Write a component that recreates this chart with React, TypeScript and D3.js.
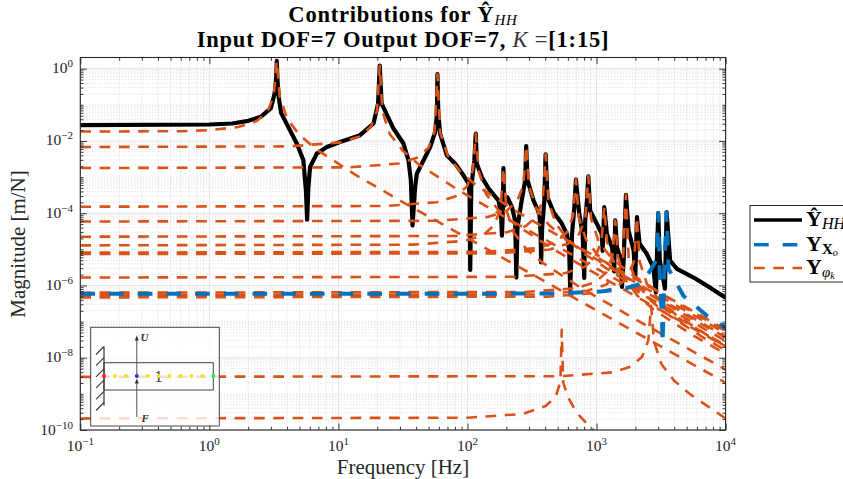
import React, { useEffect, useRef } from 'react'
import * as d3 from 'd3'

// every series is [frequency in Hz, log10 of magnitude in m/N]
type Pt = [number, number]

const total: Pt[] = [
  [0.1, -1.564], [1, -1.545], [1.5, -1.516], [2, -1.444], [2.5, -1.333], [3, -1.09], [3.2, -0.7], [3.29, -0.3], [3.33, 0.214],
  [3.37, -0.3], [3.45, -0.8], [3.6, -1.23], [4.76, -2.07], [5.35, -2.536], [5.6, -3.37], [5.72, -4.18],
  [5.85, -3.28], [6.03, -2.72], [6.8, -2.35], [8.13, -2.167], [10.3, -2.03], [14.7, -1.84], [18.7, -1.517], [20.3, -0.961], [20.9, 0.083],
  [21.6, -0.961], [26.7, -1.656], [31.9, -2.07], [34.9, -2.536], [36.4, -3.09], [37.5, -4.34],
  [39.3, -3.28], [40.5, -2.906], [43, -2.72], [51.4, -2.167], [56.2, -1.75], [58, -1.239], [58.5, -0.147],
  [59.4, -1.239], [61.4, -1.794], [69.2, -2.397], [80.4, -2.63], [93, -2.95], [102, -3.18], [104, -3.56], [105, -5.57],
  [107, -3.28], [110, -2.906], [113, -2.54], [116, -1.794], [118, -2.62], [129, -3], [146, -3.32], [174, -3.65], [182, -4.02], [185, -4.62],
  [188, -3.9], [190, -2.75], [192, -3.8], [204, -3.56], [221, -3.83], [234, -4.2], [239, -5.78],
  [244, -4.39], [263, -3.65], [280, -3.09], [285, -2.14], [292, -3.09], [325, -3.65], [361, -4.02], [369, -4.57], [372, -5.36],
  [379, -4.39], [394, -3.65], [403, -2.37], [417, -3.56], [464, -3.97], [537, -4.28], [589, -4.57], [614, -5.04], [625, -6.1],
  [646, -4.57], [673, -3.83], [692, -3.07], [735, -4.02], [780, -4.57], [803, -5.79],
  [817, -4.2], [843, -3.65], [863, -2.98], [893, -3.93], [1005, -4.29], [1097, -4.57], [1115, -5.04],
  [1148, -3.83], [1202, -4.57], [1318, -4.94], [1371, -5.61], [1396, -4.2], [1439, -4.94], [1549, -5.31], [1574, -6.04],
  [1622, -5.31], [1690, -3.49], [1770, -4.48], [1940, -5.04], [1995, -5.8], [2056, -4.11], [2153, -4.84], [2455, -5.13], [2754, -5.5], [2884, -6.19],
  [3006, -4.0], [3090, -5.3], [3388, -6.09], [3491, -3.97], [3715, -5.31], [4198, -5.54], [5650, -5.78], [7586, -6.06], [10000, -6.34],
]

const residual: Pt[] = [
  [0.1, -6.23], [100, -6.23], [500, -6.22], [1050, -6.17], [1318, -6.13], [1718, -6.07], [2183, -5.96], [2606, -5.59], [2938, -5.27],
  [3006, -4.0], [3090, -5.68], [3214, -6.89], [3251, -7.62], [3350, -5.59], [3491, -3.97], [3614, -5.54], [4721, -6.29], [7178, -6.84], [10000, -7.17],
]

const mode1: Pt[] = [[0.1, -1.74], [0.6, -1.73], [1, -1.7], [1.67, -1.615], [2.33, -1.45], [2.83, -1.184], [3.16, -0.73], [3.33, 0.214], [3.5, -0.75], [4, -1.384], [5, -1.837], [6.66, -2.217], [13.3, -2.92], [33.3, -3.74], [100, -4.69], [1000, -6.69], [10000, -8.69]]
const mode2: Pt[] = [[0.1, -2.167], [4.2, -2.15], [10.45, -2.04], [14.6, -1.877], [17.8, -1.61], [19.9, -1.157], [20.9, 0.083], [21.9, -1.177], [25, -1.81], [31.4, -2.264], [41.8, -2.644], [83.6, -3.347], [209, -4.167], [1000, -5.53], [10000, -7.53]]
const mode3: Pt[] = [[0.1, -2.75], [12, -2.73], [29.3, -2.625], [41, -2.46], [49.7, -2.194], [55.6, -1.74], [58.5, -0.147], [61.4, -1.76], [70, -2.394], [87.8, -2.847], [117, -3.227], [234, -3.93], [585, -4.75], [1000, -5.216], [10000, -7.216]]
const mode4: Pt[] = [[0.1, -3.82], [23, -3.8], [58, -3.695], [81, -3.53], [99, -3.264], [110, -2.81], [116, -1.794], [122, -2.83], [139, -3.464], [174, -3.917], [232, -4.297], [464, -5.0], [1160, -5.82], [10000, -7.69]]
const mode5: Pt[] = [[0.1, -4.89], [38, -4.87], [95, -4.765], [133, -4.6], [161, -4.334], [180, -3.88], [190, -2.75], [200, -3.9], [228, -4.534], [285, -4.987], [380, -5.367], [760, -6.07], [1900, -6.89], [10000, -8.33]]
const mode6: Pt[] = [[0.1, -4.23], [57, -4.21], [143, -4.105], [200, -3.94], [242, -3.674], [271, -3.22], [285, -2.14], [299, -3.24], [342, -3.874], [428, -4.327], [570, -4.707], [1140, -5.41], [2850, -6.23], [10000, -7.32]]
const mode7: Pt[] = [[0.1, -4.65], [80, -4.63], [202, -4.525], [282, -4.36], [343, -4.094], [383, -3.64], [403, -2.37], [423, -3.66], [484, -4.294], [605, -4.747], [806, -5.127], [1612, -5.83], [4030, -6.65], [10000, -7.44]]
const mode8: Pt[] = [[0.1, -9.68], [100, -9.66], [269, -9.555], [400, -9.34], [480, -9.1], [525, -8.67], [537, -7.23], [552, -8.69], [603, -9.1], [703, -9.53], [933, -9.99], [1074, -10.157], [2000, -10.8]]
const mode9: Pt[] = [[0.1, -5.09], [140, -5.07], [346, -4.965], [484, -4.8], [588, -4.534], [657, -4.08], [692, -3.07], [727, -4.1], [830, -4.734], [1038, -5.187], [1384, -5.567], [2768, -6.27], [6920, -7.09], [10000, -7.41]]
const mode10: Pt[] = [[0.1, -5.13], [170, -5.11], [432, -5.005], [604, -4.84], [734, -4.574], [820, -4.12], [863, -2.98], [906, -4.14], [1036, -4.774], [1295, -5.227], [1726, -5.607], [3452, -6.31], [8630, -7.13], [10000, -7.26]]
const mode11: Pt[] = [[0.1, -5.78], [230, -5.76], [574, -5.655], [804, -5.49], [976, -5.224], [1091, -4.77], [1148, -3.83], [1205, -4.79], [1378, -5.424], [1722, -5.877], [2296, -6.257], [4592, -6.96], [10000, -7.66]]
const mode12: Pt[] = [[0.1, -6.2], [280, -6.18], [698, -6.075], [977, -5.91], [1187, -5.644], [1326, -5.19], [1396, -4.2], [1466, -5.21], [1675, -5.844], [2094, -6.297], [2792, -6.677], [5584, -7.38], [10000, -7.89]]
const mode13: Pt[] = [[0.1, -6.27], [340, -6.25], [845, -6.145], [1183, -5.98], [1437, -5.714], [1606, -5.26], [1690, -3.49], [1775, -5.28], [2028, -5.914], [2535, -6.367], [3380, -6.747], [6760, -7.45], [10000, -7.79]]
const mode14: Pt[] = [[0.1, -6.33], [410, -6.31], [1028, -6.205], [1439, -6.04], [1748, -5.774], [1953, -5.32], [2056, -4.11], [2159, -5.34], [2467, -5.974], [3084, -6.427], [4112, -6.807], [8224, -7.51], [10000, -7.68]]
const mode15: Pt[] = [[0.1, -8.53], [530, -8.51], [1325, -8.405], [1855, -8.24], [2253, -7.974], [2518, -7.52], [2650, -6.56], [2783, -7.54], [3180, -8.174], [3975, -8.627], [5300, -9.007], [10000, -9.68]]

const modes = [mode1, mode2, mode3, mode4, mode5, mode6, mode7, mode8, mode9, mode10, mode11, mode12, mode13, mode14, mode15]

const xDecades = [-1, 0, 1, 2, 3, 4]
const yLabelled = [0, -2, -4, -6, -8, -10]
const yDecades = [0, -1, -2, -3, -4, -5, -6, -7, -8, -9, -10]
const minorFactors = [2, 3, 4, 5, 6, 7, 8, 9]
const dofs = [1, 2, 3, 4, 5, 6, 7, 8, 9, 10, 11]
const dofColors = ['#ff2020', '#f5e020', '#f5e020', '#2a2aee', '#f5e020', '#f5e020', '#f5e020', '#f5e020', '#f5e020', '#f5e020', '#22ee44']

const BLACK = '#000000'
const BLUE = '#0072BD'
const ORANGE = '#D95319'
const INK = '#262626'
const SERIF = '"Liberation Serif", "DejaVu Serif", serif'

const W = 843
const H = 479

export default function App() {
  const ref = useRef<SVGSVGElement>(null)

  useEffect(() => {
    const svg = d3.select(ref.current)
    svg.selectAll('*').remove()
    svg.style('font-family', SERIF)

    const x = d3.scaleLog().domain([0.1, 10000]).range([80.3, 725.6])
    const y = d3.scaleLog().domain([Math.pow(10, 0.31), 1e-10]).range([57.5, 430])
    const [x0, x1] = x.range()
    const [y0, y1] = y.range()

    const xMinor = xDecades.slice(0, -1).flatMap(d => minorFactors.map(m => m * Math.pow(10, d)))
    const yMinor = yDecades.slice(1).flatMap(d => minorFactors.map(m => m * Math.pow(10, d)))
      .concat(yDecades.filter(d => d % 2 !== 0).map(d => Math.pow(10, d)))
      .filter(v => v <= y.domain()[0])
    const xMajor = xDecades.map(d => Math.pow(10, d))
    const yMajor = yLabelled.map(d => Math.pow(10, d))

    svg.append('rect').attr('width', W).attr('height', H).attr('fill', '#fff')

    svg.append('defs').append('clipPath').attr('id', 'plot')
      .append('rect').attr('x', x0).attr('y', y0).attr('width', x1 - x0).attr('height', y1 - y0)

    // grid
    const grid = svg.append('g')
    grid.selectAll('.xm').data(xMinor).join('line')
      .attr('x1', d => x(d)).attr('x2', d => x(d)).attr('y1', y0).attr('y2', y1)
      .attr('stroke', '#b8b8b8').attr('stroke-dasharray', '1,2').attr('stroke-width', 0.8).attr('opacity', 0.6)
    grid.selectAll('.ym').data(yMinor).join('line')
      .attr('y1', d => y(d)).attr('y2', d => y(d)).attr('x1', x0).attr('x2', x1)
      .attr('stroke', '#b8b8b8').attr('stroke-dasharray', '1,2').attr('stroke-width', 0.8).attr('opacity', 0.6)
    grid.selectAll('.xj').data(xMajor).join('line')
      .attr('x1', d => x(d)).attr('x2', d => x(d)).attr('y1', y0).attr('y2', y1)
      .attr('stroke', '#e2e2e2').attr('stroke-width', 1)
    grid.selectAll('.yj').data(yMajor).join('line')
      .attr('y1', d => y(d)).attr('y2', d => y(d)).attr('x1', x0).attr('x2', x1)
      .attr('stroke', '#e2e2e2').attr('stroke-width', 1)

    // curves
    const line = d3.line<Pt>().x(d => x(d[0])).y(d => y(Math.pow(10, d[1])))
    const curves = svg.append('g').attr('clip-path', 'url(#plot)').attr('fill', 'none').attr('stroke-linejoin', 'round')
    curves.append('path').datum(total).attr('d', line).attr('stroke', BLACK).attr('stroke-width', 4.2)
    modes.forEach(m => {
      curves.append('path').datum(m).attr('d', line).attr('stroke', ORANGE).attr('stroke-width', 2.6).attr('stroke-dasharray', '10.7,8.6')
    })
    curves.append('path').datum(residual).attr('d', line).attr('stroke', BLUE).attr('stroke-width', 4).attr('stroke-dasharray', '14.7,14')

    // axes, ticks inside on all four sides
    const ticks = (g: any, axis: any, major: number[], minor: number[]) => {
      g.append('g').call(axis.tickValues(major).tickSize(-6.5).tickFormat(() => ''))
      g.append('g').call(axis.tickValues(minor).tickSize(-3.2).tickFormat(() => ''))
      g.selectAll('.domain').remove()
      g.selectAll('line').attr('stroke', INK).attr('stroke-width', 0.9)
    }
    ticks(svg.append('g').attr('transform', `translate(0,${y1})`), d3.axisBottom(x), xMajor, xMinor)
    ticks(svg.append('g').attr('transform', `translate(0,${y0})`), d3.axisTop(x).tickSizeOuter(0), xMajor, xMinor)
    ticks(svg.append('g').attr('transform', `translate(${x0},0)`), d3.axisLeft(y), yMajor, yMinor)
    ticks(svg.append('g').attr('transform', `translate(${x1},0)`), d3.axisRight(y), yMajor, yMinor)
    svg.append('rect').attr('x', x0).attr('y', y0).attr('width', x1 - x0).attr('height', y1 - y0)
      .attr('fill', 'none').attr('stroke', INK).attr('stroke-width', 1.1)

    // tick labels
    const power = (t: any, exp: number) => {
      t.append('tspan').text('10')
      t.append('tspan').attr('dy', -6).attr('font-size', 11).text(String(exp).replace('-', '\u2212'))
    }
    xDecades.forEach(d => {
      const t = svg.append('text').attr('x', x(Math.pow(10, d))).attr('y', 451).attr('text-anchor', 'middle')
        .attr('font-size', 15.5).attr('fill', INK)
      power(t, d)
    })
    yLabelled.forEach(d => {
      const t = svg.append('text').attr('x', 73).attr('y', y(Math.pow(10, d)) + 4.5).attr('text-anchor', 'end')
        .attr('font-size', 15.5).attr('fill', INK)
      power(t, d)
    })

    // axis titles
    svg.append('text').attr('x', 403).attr('y', 474).attr('text-anchor', 'middle').attr('font-size', 21)
      .attr('fill', INK).text('Frequency [Hz]')
    svg.append('text').attr('transform', `translate(25,244) rotate(-90)`).attr('text-anchor', 'middle').attr('font-size', 21)
      .attr('fill', INK).text('Magnitude [m/N]')

    // title
    const t1 = svg.append('text').attr('x', 403).attr('y', 22).attr('text-anchor', 'middle')
      .attr('font-size', 22.5).attr('font-weight', 'bold').attr('fill', '#000').attr('letter-spacing', 0.8)
    t1.append('tspan').text('Contributions for \u0176')
    t1.append('tspan').attr('dy', 3).attr('font-size', 15).attr('font-style', 'italic').attr('font-weight', 'normal').text('HH')
    const t2 = svg.append('text').attr('x', 403).attr('y', 46.5).attr('text-anchor', 'middle')
      .attr('font-size', 22.5).attr('font-weight', 'bold').attr('fill', '#000').attr('letter-spacing', 0.8)
    t2.append('tspan').text('Input DOF=7 Output DOF=7, ')
    t2.append('tspan').attr('font-style', 'italic').attr('font-weight', 'normal').attr('fill', '#333').text('K ')
    t2.append('tspan').attr('font-weight', 'normal').attr('fill', '#333').text('=')
    t2.append('tspan').text('[1:15]')

    // legend, runs off the right edge of the picture
    const legend = svg.append('g')
    legend.append('rect').attr('x', 750).attr('y', 205.5).attr('width', 120).attr('height', 76.5)
      .attr('fill', '#fff').attr('stroke', INK).attr('stroke-width', 1)
    const rows = [
      { yy: 220, color: BLACK, w: 3.6, dash: null, sub: 'HH', hat: true },
      { yy: 244.7, color: BLUE, w: 3.4, dash: '14.7,14', sub: 'X', hat: false },
      { yy: 268, color: ORANGE, w: 2.3, dash: '10.7,8.6', sub: '\u03c6', hat: false },
    ]
    rows.forEach(r => {
      const l = legend.append('line').attr('x1', 754).attr('x2', 802).attr('y1', r.yy).attr('y2', r.yy)
        .attr('stroke', r.color).attr('stroke-width', r.w)
      if (r.dash) l.attr('stroke-dasharray', r.dash)
      const t = legend.append('text').attr('x', 806).attr('y', r.yy + 6).attr('font-size', 22).attr('font-weight', 'bold').attr('fill', '#000')
      t.append('tspan').text(r.hat ? '\u0176' : 'Y')
      if (r.sub === 'HH') {
        t.append('tspan').attr('dy', 3).attr('font-size', 16).attr('font-style', 'italic').attr('font-weight', 'normal').text('HH')
      } else if (r.sub === 'X') {
        t.append('tspan').attr('dy', 3).attr('font-size', 15).text('X')
        t.append('tspan').attr('dy', 2).attr('font-size', 10).attr('font-style', 'italic').attr('font-weight', 'normal').text('o')
      } else {
        t.append('tspan').attr('dy', 3).attr('font-size', 15).attr('font-style', 'italic').attr('font-weight', 'normal').text(r.sub)
        t.append('tspan').attr('dy', 2).attr('font-size', 10).attr('font-style', 'italic').attr('font-weight', 'normal').text('k')
      }
    })

    // inset sketch of the beam
    const inset = svg.append('g')
    const nodeX = d3.scaleLinear().domain([1, 11]).range([104, 213.3])
    const beamY = 376
    inset.append('rect').attr('x', 90.7).attr('y', 327.3).attr('width', 128.6).attr('height', 98.7)
      .attr('fill', '#fff').attr('fill-opacity', 0.8).attr('stroke', '#444').attr('stroke-width', 1)
    inset.append('rect').attr('x', nodeX(1)).attr('y', 362.7).attr('width', nodeX(11) - nodeX(1)).attr('height', 27.3)
      .attr('fill', 'none').attr('stroke', '#444').attr('stroke-width', 1)
    inset.append('line').attr('x1', nodeX(1)).attr('x2', nodeX(1)).attr('y1', 346.5).attr('y2', 405.5)
      .attr('stroke', '#333').attr('stroke-width', 1.2)
    d3.range(0, 6).forEach(i => {
      inset.append('line').attr('x1', nodeX(1)).attr('x2', nodeX(1) - 8).attr('y1', 346.5 + i * 11.2).attr('y2', 354.5 + i * 11.2)
        .attr('stroke', '#333').attr('stroke-width', 1.1)
    })
    inset.append('text').attr('x', 158.5).attr('y', 382).attr('text-anchor', 'middle').attr('font-size', 17).attr('fill', '#444').text('1')
    inset.selectAll('circle').data(dofs).join('circle')
      .attr('cx', d => nodeX(d)).attr('cy', beamY).attr('r', 2)
      .attr('fill', (d, i) => dofColors[i])
    const arrow = (xa: number, from: number, to: number) => {
      inset.append('line').attr('x1', xa).attr('x2', xa).attr('y1', from).attr('y2', to + 4).attr('stroke', '#555').attr('stroke-width', 1)
      inset.append('path').attr('d', `M${xa},${to}L${xa - 2},${to + 5}L${xa + 2},${to + 5}Z`).attr('fill', '#333')
    }
    arrow(nodeX(4), beamY, 335.5)
    arrow(nodeX(4), 417, 378.5)
    inset.append('text').attr('x', 140.5).attr('y', 340.5).attr('font-size', 11).attr('font-style', 'italic').attr('font-weight', 'bold').attr('fill', '#333').text('U')
    inset.append('text').attr('x', 141.5).attr('y', 421.5).attr('font-size', 11).attr('font-style', 'italic').attr('font-weight', 'bold').attr('fill', '#333').text('F')
  }, [])

  return <svg ref={ref} width={W} height={H} style={{ position: 'absolute', left: 0, top: 0, display: 'block' }} />
}
